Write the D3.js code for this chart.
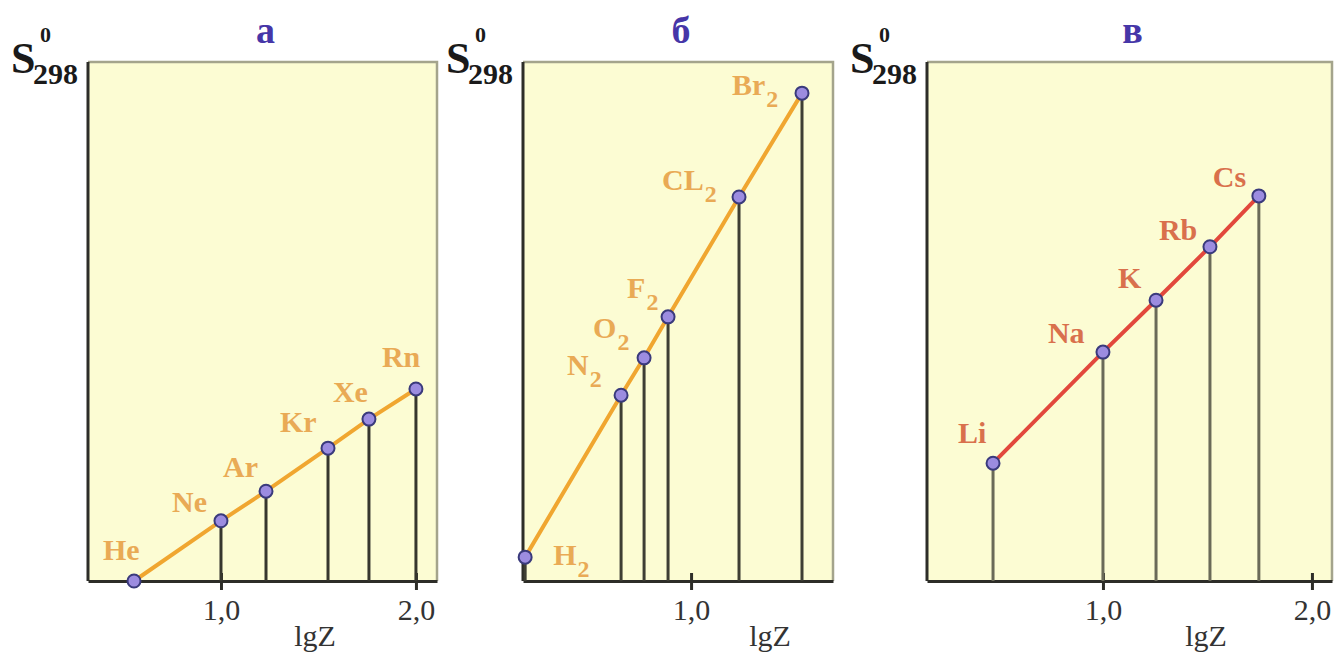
<!DOCTYPE html>
<html lang="ru">
<head>
<meta charset="UTF-8">
<title>S298 vs lgZ</title>
<script src="https://d3js.org/d3.v7.min.js"></script>
<style>
  body { margin: 0; background: #fff; }
  svg { display: block; }
  text { font-family: "Liberation Serif", "DejaVu Serif", "Noto Serif", "Times New Roman", Tinos, FreeSerif, serif; }
</style>
</head>
<body>
<div id="chart"></div>
<script>
// panel titles
const titles = ["а", "б", "в"];

// а: noble gases
const namesA = ["He", "Ne", "Ar", "Kr", "Xe", "Rn"];
const lgzA = [0.554, 1.0, 1.231, 1.549, 1.759, 2.0];
const sA = [0, 11.6, 17.3, 25.6, 31.2, 37.0];

// б: diatomic molecules
const namesB = ["H2", "N2", "O2", "F2", "CL2", "Br2"];
const lgzB = [0.149, 0.641, 0.759, 0.882, 1.246, 1.569];
const sB = [4.6, 35.8, 43.0, 50.9, 74.0, 94.0];

// в: alkali metals
const namesC = ["Li", "Na", "K", "Rb", "Cs"];
const lgzC = [0.474, 1.0, 1.254, 1.512, 1.746];
const sC = [22.7, 44.1, 54.1, 64.4, 74.2];

const ticksA = [1.0, 2.0];
const ticksB = [1.0];
const ticksC = [1.0, 2.0];

// label offsets (start of text relative to the point)
const offA = [[-31, -21], [-49, -9], [-43, -14], [-48, -16], [-36, -17], [-34, -22]];
const offB = [[28, 8], [-54, -20], [-51, -20], [-41, -19], [-77, -7], [-70, 2]];
const offC = [[-35, -20], [-55, -9], [-38, -12], [-51, -7], [-46, -9]];

const W = 1338, H = 658;
const plotTop = 62, plotBottom = 581;

const panels = [
  { title: titles[0], names: namesA, x: lgzA, y: sA, ticks: ticksA, off: offA,
    left: 88, right: 437, dom: [0.318, 2.108], axisX: 315,
    line: "#f0a630", label: "#e9aa55", stem: "#36362e" },
  { title: titles[1], names: namesB, x: lgzB, y: sB, ticks: ticksB, off: offB,
    left: 523, right: 833, dom: [0.138, 1.728], axisX: 770,
    line: "#f0a630", label: "#e9aa55", stem: "#3e3e34" },
  { title: titles[2], names: namesC, x: lgzC, y: sC, ticks: ticksC, off: offC,
    left: 927, right: 1332, dom: [0.158, 2.096], axisX: 1206,
    line: "#e2483c", label: "#d9704c", stem: "#6a6a58" }
];

const svg = d3.select("#chart").append("svg")
  .attr("width", W).attr("height", H);

const y = d3.scaleLinear().domain([0, 100]).range([plotBottom, plotTop]);

panels.forEach(p => {
  const x = d3.scaleLinear().domain(p.dom).range([p.left, p.right]);
  const g = svg.append("g");
  const pts = p.x.map((v, i) => ({ name: p.names[i], x: v, y: p.y[i], off: p.off[i] }));

  // background + light frame
  g.append("rect")
    .attr("x", p.left).attr("y", plotTop)
    .attr("width", p.right - p.left).attr("height", plotBottom - plotTop)
    .attr("fill", "#fcfcd3");
  g.append("path")
    .attr("d", `M${p.left},${plotTop}H${p.right}V${plotBottom}`)
    .attr("fill", "none").attr("stroke", "#a4a48c").attr("stroke-width", 2.5);

  // left axis
  g.append("line")
    .attr("x1", p.left).attr("x2", p.left)
    .attr("y1", plotTop).attr("y2", plotBottom)
    .attr("stroke", "#2d2d28").attr("stroke-width", 3);

  // bottom axis
  const ax = g.append("g")
    .attr("transform", `translate(0,${plotBottom})`)
    .call(d3.axisBottom(x).tickValues(p.ticks).tickSize(9).tickSizeOuter(0).tickPadding(9)
      .tickFormat(d => d.toFixed(1).replace(".", ",")));
  ax.attr("font-family", null);
  ax.select(".domain").attr("stroke", "#2d2d28").attr("stroke-width", 3);
  ax.selectAll(".tick line").attr("y1", -8).attr("stroke", "#2d2d28").attr("stroke-width", 3);
  ax.selectAll(".tick text")
    .attr("font-size", 30).attr("fill", "#333");

  g.append("text")
    .attr("x", p.axisX).attr("y", 646)
    .attr("text-anchor", "middle")
    .attr("font-size", 30).attr("fill", "#333")
    .text("lgZ");

  // stems
  g.selectAll(".stem").data(pts).join("line")
    .attr("x1", d => x(d.x)).attr("x2", d => x(d.x))
    .attr("y1", d => y(d.y)).attr("y2", plotBottom)
    .attr("stroke", p.stem).attr("stroke-width", 3);

  // trend line
  g.append("path")
    .datum(pts)
    .attr("fill", "none")
    .attr("stroke", p.line).attr("stroke-width", 4)
    .attr("d", d3.line().x(d => x(d.x)).y(d => y(d.y)));

  // points
  g.selectAll(".pt").data(pts).join("circle")
    .attr("cx", d => x(d.x)).attr("cy", d => y(d.y)).attr("r", 6.5)
    .attr("fill", "#9c8ce0").attr("stroke", "#3a3a7c").attr("stroke-width", 2);

  // labels
  const lab = g.selectAll(".lab").data(pts).join("text")
    .attr("x", d => x(d.x) + d.off[0]).attr("y", d => y(d.y) + d.off[1])
    .attr("font-size", 30).attr("font-weight", "bold").attr("fill", p.label);
  lab.each(function(d) {
    const m = d.name.match(/^(\D+)(\d*)$/);
    const t = d3.select(this);
    t.append("tspan").text(m[1]);
    if (m[2]) t.append("tspan").attr("dx", 1).attr("dy", 12).attr("font-size", 24).text(m[2]);
  });

  // title
  svg.append("text")
    .attr("x", (p.left + p.right) / 2 + 3).attr("y", 43)
    .attr("text-anchor", "middle")
    .attr("font-size", 38).attr("font-weight", "bold").attr("fill", "#4636a8")
    .text(p.title);

  // y label S°298
  const yl = svg.append("g").attr("fill", "#1a1a1a").attr("font-weight", "bold");
  yl.append("text").attr("x", p.left - 77).attr("y", 73).attr("font-size", 44).text("S");
  yl.append("text").attr("x", p.left - 48).attr("y", 42).attr("font-size", 22).text("0");
  yl.append("text").attr("x", p.left - 55).attr("y", 84).attr("font-size", 30).text("298");
});
</script>
</body>
</html>
